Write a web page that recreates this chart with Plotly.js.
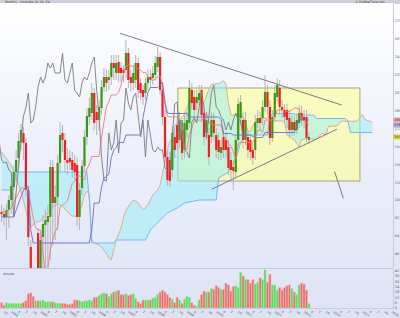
<!DOCTYPE html>
<html><head><meta charset="utf-8">
<script src="https://cdn.plot.ly/plotly-3.0.1.min.js"></script>
<style>
html,body{margin:0;padding:0;width:400px;height:318px;overflow:hidden;}
#chart{width:400px;height:318px;background:linear-gradient(to bottom,#ffffff 0%,#eef1fb 45%,#dde3f5 100%);}
</style></head><body><div id="chart"></div>
<script>
// monthly OHLC (price units of the chart's scale)
const open = [88,86,83,90,100,113,128,142,158,167, 157,110,53,10,-30,67,0,63,75,78, 83,133,97,103,137,167,160,140,142,140, 137,135,83,112,134,163,183,187,207,188, 180,192,213,223,220,223,237,227,238,232, 230,230,247,223,217,220,237,217,210,207, 217,223,222,225,233,243,210,183,143,140, 130,163,175,160,170,150,170,177,210,203, 197,200,210,187,167,165,163,180,165,160, 147,163,160,153,140,133,128,160,182,180, 160,163,160,150,150,177,182,182,193,208, 193,162,183,203,212,193,190,190,182,170, 178,170,177,187,183,183,160];
const close = [86,83,90,100,114,128,140,159,170,157, 110,63,10,-20,-25,0,60,76,80,84, 133,97,103,137,165,160,140,137,138,130, 128,83,110,134,163,184,192,207,177,180, 193,213,223,217,223,237,232,237,227,227, 227,247,220,217,227,237,210,207,203,217, 223,220,227,237,243,210,183,143,120,119, 167,150,157,180,147,177,180,212,197,190, 203,207,185,163,180,143,180,167,150,148, 153,150,150,132,130,129,160,196,198,160, 180,150,148,142,178,182,177,193,208,193, 162,183,207,215,193,190,183,180,170,178, 170,180,187,180,180,162,163];
const high = [95,92,96,105,122,135,150,167,176,173, 162,115,60,15,-12,72,68,85,90,95, 140,140,115,145,178,175,167,152,150,148, 145,142,117,140,170,192,202,217,212,195, 200,220,232,230,230,245,245,245,245,238, 235,260,252,230,235,245,242,222,215,222, 230,230,234,244,253,248,215,190,150,148, 174,172,182,188,178,185,188,220,217,210, 210,215,215,192,188,172,188,187,172,167, 160,170,168,160,148,140,165,202,205,188, 188,170,165,157,185,190,188,200,225,215, 200,190,215,222,220,200,196,196,190,185, 185,187,195,194,190,190,168];
const low = [78,74,60,72,86,100,118,134,150,140, 104,54,0,-32,-45,-12,-10,12,15,20, 40,55,60,70,128,148,128,125,130,122, 120,74,70,105,128,155,175,180,170,165, 170,185,208,208,210,215,220,220,218,218, 218,222,212,208,210,212,202,200,195,200, 210,212,215,220,228,205,175,137,114,113, 122,142,150,152,140,142,162,172,190,182, 190,195,178,155,160,135,157,160,142,140, 140,142,142,125,120,110,122,155,175,152, 155,142,140,135,140,172,170,175,188,185, 155,158,178,198,185,182,176,172,162,164, 164,166,172,174,172,158,156];
const volume = [6,3,6,5,5,5,5,5,5,6, 8,16,17,13,8,8,8,9,7,7, 7,7,6,5,5,5,5,4,4,5, 9,9,8,7,8,8,9,8,12,12, 14,16,17,16,13,16,18,19,20,15, 15,16,14,15,16,11,7,5,9,9, 9,9,11,12,15,18,20,18,15,12, 10,6,12,9,5,10,13,12,6,3, 2,9,15,19,18,18,22,21,25,23, 21,21,28,26,19,24,25,23,40,36, 32,32,28,32,27,29,34,32,43,29, 38,26,26,20,23,20,23,25,26,22, 18,15,26,28,27,20,5];

const tenkanEarly = [88,88,89,90,92,97,102,107,112,112,110,110,95,82,72,70,70,50,25,32,50,60,68,73,93];
const kijunEarly = [83,83,83,83,83,83,90,97,105,110,113,113,70,57,57,57,57,57,57,57,57,57,57,57,57,57,57,57,57,57,57,57,57,57,57,57,57,70,97,97,97,113];
const spanAEarlyX = [0,3,5,7,8,10,11,12,14,16,18,19,21,23,25,27,29,31,33,34,35,36,37,38,40,42,44,45,46,47,49,50,51,53,54,55,56,58,60,62,64,65,66,67];
const spanAEarlyY = [148,138,130,115,108,90,78,73,78,79,85,87,93,96,94,88,84,84,95,105,109,105,60,57,55,50,42,40,50,60,72,83,90,97,100,99,97,90,95,105,110,115,125,138];
const spanBEarlyX = [0,5,6,35,36,37,46,47,59,61,63,65,68,72,75,81,88,89,93];
const spanBEarlyY = [110,110,128,128,100,57,57,60,60,70,75,80,87,92,97,100,100,122,128];

// drawings on the chart
const boxX = [72.3, 146.9], boxY = [119, 212];
const upperLineX = [48.6, 139.4], upperLineY = [266.7, 195];
const lowerLineX = [86.1, 137.4], lowerLineY = [110.7, 170.7];
const shortLineX = [136.5, 140.1], shortLineY = [128.5, 101.7];

// time axis labels
const yearLabels = ['2003','2004','2005','2006','2007','2008','2009','2010','2011','2012','2013','2014','2015','2016'];
const quarterLabels = ['4','7','10'];

const N = open.length;
const idx = open.map((_, i) => i);
function midpoint(i, n){let hi=-Infinity, lo=Infinity; for(let k=i-n+1;k<=i;k++){if(high[k]>hi)hi=high[k]; if(low[k]<lo)lo=low[k];} return (hi+lo)/2;}
const tenkan = idx.map(i => i < tenkanEarly.length ? tenkanEarly[i] : midpoint(i, 9));
const kijun = idx.map(i => i < kijunEarly.length ? kijunEarly[i] : midpoint(i, 26));
const shift = 26;
const aX = spanAEarlyX.slice(), aY = spanAEarlyY.slice();
for (let i = spanAEarlyX[spanAEarlyX.length-1] + 1 - shift; i < N; i++){ aX.push(i+shift); aY.push((tenkan[i]+kijun[i])/2); }
const bX = spanBEarlyX.slice(), bY = spanBEarlyY.slice();
for (let i = spanBEarlyX[spanBEarlyX.length-1] + 1 - shift; i < N; i++){ bX.push(i+shift); bY.push(midpoint(i, 52)); }

const wx=[], wy=[], gx=[], gy=[], rx=[], ry=[];
idx.forEach(i=>{
  wx.push(i,i,null); wy.push(low[i],high[i],null);
  if (close[i] >= open[i]) { gx.push(i,i,null); gy.push(open[i],close[i],null); }
  else { rx.push(i,i,null); ry.push(open[i],close[i],null); }
});
const up = idx.map(i => close[i] >= open[i]);

const tickVals = [], tickText = [];
for (let y = 0; y < yearLabels.length; y++) {
  const base = 4 + 12*y;
  tickVals.push(base); tickText.push(yearLabels[y]);
  quarterLabels.forEach((q, k) => { tickVals.push(base + 3*(k+1)); tickText.push(q); });
}
tickVals.unshift(1); tickText.unshift('10');

const traces = [
  {x:aX, y:aY, type:'scatter', mode:'lines', line:{color:'#deb08e', width:1}, hoverinfo:'skip'},
  {x:bX, y:bY, type:'scatter', mode:'lines', line:{color:'#78b8f2', width:1}, fill:'tonexty', fillcolor:'rgba(150,238,246,0.5)', hoverinfo:'skip'},
  {x:wx, y:wy, type:'scatter', mode:'lines', line:{color:'#b4b4b8', width:1}, hoverinfo:'skip'},
  {x:gx, y:gy, type:'scatter', mode:'lines', line:{color:'#38980f', width:2.2}, hoverinfo:'skip'},
  {x:rx, y:ry, type:'scatter', mode:'lines', line:{color:'#f01e1e', width:2.2}, hoverinfo:'skip'},
  {x:idx, y:tenkan, type:'scatter', mode:'lines', line:{color:'#f27a7a', width:0.9}, hoverinfo:'skip'},
  {x:idx, y:kijun, type:'scatter', mode:'lines', line:{color:'#6a6ad6', width:0.9}, hoverinfo:'skip'},
  {x:idx.map(i=>i-shift), y:close, type:'scatter', mode:'lines', line:{color:'#7a7a7e', width:0.9}, hoverinfo:'skip'},
  {x:idx, y:volume, type:'bar', xaxis:'x', yaxis:'y2', width:0.86,
   marker:{color:up.map(u=>u?'#58d458':'#e66a6a'), line:{color:up.map(u=>u?'#a4eaa4':'#f4b0b0'), width:0.6}}, hoverinfo:'skip'}
];

const lastT = tenkan[N-1], lastK = kijun[N-1], lastC = close[N-1];
const layout = {
  width:400, height:318,
  margin:{l:0, r:7, t:3, b:10},
  paper_bgcolor:'rgba(0,0,0,0)', plot_bgcolor:'rgba(0,0,0,0)',
  showlegend:false,
  font:{family:'DejaVu Sans, sans-serif', size:4, color:'#555'},
  xaxis:{range:[-0.615,160.45], anchor:'y2', showgrid:false, zeroline:false, tickvals:tickVals, ticktext:tickText,
         tickfont:{size:3.2, color:'#555'}, ticks:'', ticklabelstandoff:0, showline:true, linecolor:'#c8ccd8', automargin:false},
  yaxis:{domain:[0.1311,1], range:[32,297], side:'right', showgrid:false, zeroline:false, tick0:46, dtick:17.93,
         tickformat:'.0f', tickfont:{size:3.5, color:'#555'}, ticks:'', showline:true, linecolor:'#c8ccd8', automargin:false},
  yaxis2:{domain:[0,0.1279], range:[0,44], side:'right', showgrid:false, zeroline:false, dtick:6,
          tickfont:{size:3.5, color:'#555'}, ticks:'', showline:true, linecolor:'#c8ccd8', automargin:false},
  shapes:[
    {type:'rect', xref:'x', yref:'y', x0:boxX[0], x1:boxX[1], y0:boxY[0], y1:boxY[1], fillcolor:'rgba(255,255,140,0.55)', line:{color:'#a8a47a', width:1}, layer:'below'},
    {type:'line', xref:'x', yref:'y', x0:upperLineX[0], x1:upperLineX[1], y0:upperLineY[0], y1:upperLineY[1], line:{color:'#7c7c80', width:1}},
    {type:'line', xref:'x', yref:'y', x0:lowerLineX[0], x1:lowerLineX[1], y0:lowerLineY[0], y1:lowerLineY[1], line:{color:'#7c7c80', width:1}},
    {type:'line', xref:'x', yref:'y', x0:shortLineX[0], x1:shortLineX[1], y0:shortLineY[0], y1:shortLineY[1], line:{color:'#7c7c80', width:1}},
    {type:'line', xref:'paper', yref:'paper', x0:0, x1:1, y0:0.1295, y1:0.1295, line:{color:'#c4c8d4', width:1}},
    {type:'rect', xref:'paper', yref:'paper', x0:0, x1:1.02, y0:1, y1:1.0098, fillcolor:'#cdd0d9', line:{width:0}}
  ],
  annotations:[
    {xref:'paper', yref:'paper', x:0.008, y:1.0049, xanchor:'left', yanchor:'middle', text:'Monthly - Ichimoku (9, 26, 52)', showarrow:false, font:{size:3, color:'#333'}},
    {xref:'paper', yref:'paper', x:0.985, y:1.0049, xanchor:'right', yanchor:'middle', text:'© ProRealTime.com', showarrow:false, font:{size:3, color:'#333'}},
    {xref:'paper', yref:'paper', x:0.003, y:0.126, xanchor:'left', yanchor:'top', text:'Volume', showarrow:false, font:{size:3, color:'#333'}},
    {xref:'paper', yref:'y', x:1.001, y:lastK, xanchor:'left', yanchor:'middle', text:lastK.toFixed(0), showarrow:false, bgcolor:'#f2a6b2', font:{size:3.5, color:'#333'}, borderpad:0},
    {xref:'paper', yref:'y', x:1.001, y:lastT, xanchor:'left', yanchor:'middle', text:lastT.toFixed(0), showarrow:false, bgcolor:'#aab0e6', font:{size:3.5, color:'#333'}, borderpad:0},
    {xref:'paper', yref:'y', x:1.001, y:lastC, xanchor:'left', yanchor:'middle', text:lastC.toFixed(0), showarrow:false, bgcolor:'#e2d23e', font:{size:3.5, color:'#333'}, borderpad:0}
  ]
};
Plotly.newPlot('chart', traces, layout, {staticPlot:true, displayModeBar:false});
</script></body></html>
